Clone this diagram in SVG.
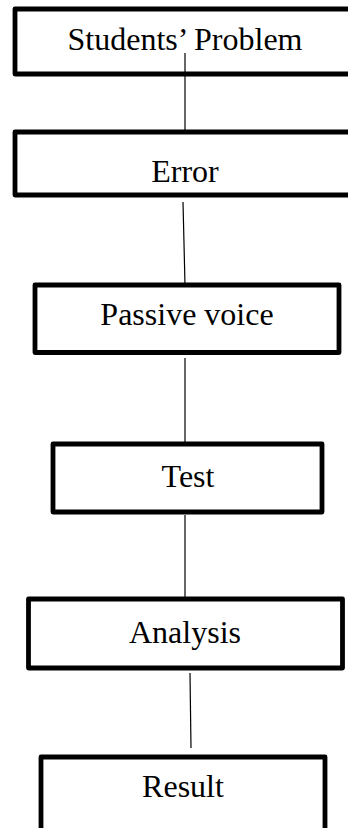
<svg xmlns="http://www.w3.org/2000/svg" width="348" height="828" viewBox="0 0 348 828">
<style>
.box{fill:#fff;stroke:#000;stroke-width:4.8;stroke-linejoin:round}
.lbl{font-family:"Liberation Serif","Times New Roman",serif;font-size:32px;fill:#000;text-anchor:middle}
.con{stroke:#000;stroke-width:1.2;fill:none}
</style>
<rect width="348" height="828" fill="#fff"/>
<g id="n1"><rect class="box" x="15" y="9" width="350" height="65"/><text class="lbl" x="185" y="50">Students’ Problem</text></g>
<g id="n2"><rect class="box" x="15" y="132" width="350" height="63"/><text class="lbl" x="185" y="182">Error</text></g>
<g id="n3"><rect class="box" x="35" y="285" width="304" height="67.5"/><text class="lbl" x="187" y="325">Passive voice</text></g>
<g id="n4"><rect class="box" x="53" y="444" width="269" height="68"/><text class="lbl" x="188" y="487">Test</text></g>
<g id="n5"><rect class="box" x="28.5" y="599" width="314" height="69"/><text class="lbl" x="185" y="643">Analysis</text></g>
<g id="n6"><rect class="box" x="41" y="757" width="284" height="100"/><text class="lbl" x="183" y="797">Result</text></g>
<g id="connectors">
<line class="con" x1="185" y1="53" x2="185" y2="130"/>
<line class="con" x1="183" y1="202" x2="185" y2="285"/>
<line class="con" x1="185" y1="358" x2="185" y2="444"/>
<line class="con" x1="185" y1="515" x2="185" y2="599"/>
<line class="con" x1="190" y1="673" x2="191" y2="748"/>
</g>
</svg>
